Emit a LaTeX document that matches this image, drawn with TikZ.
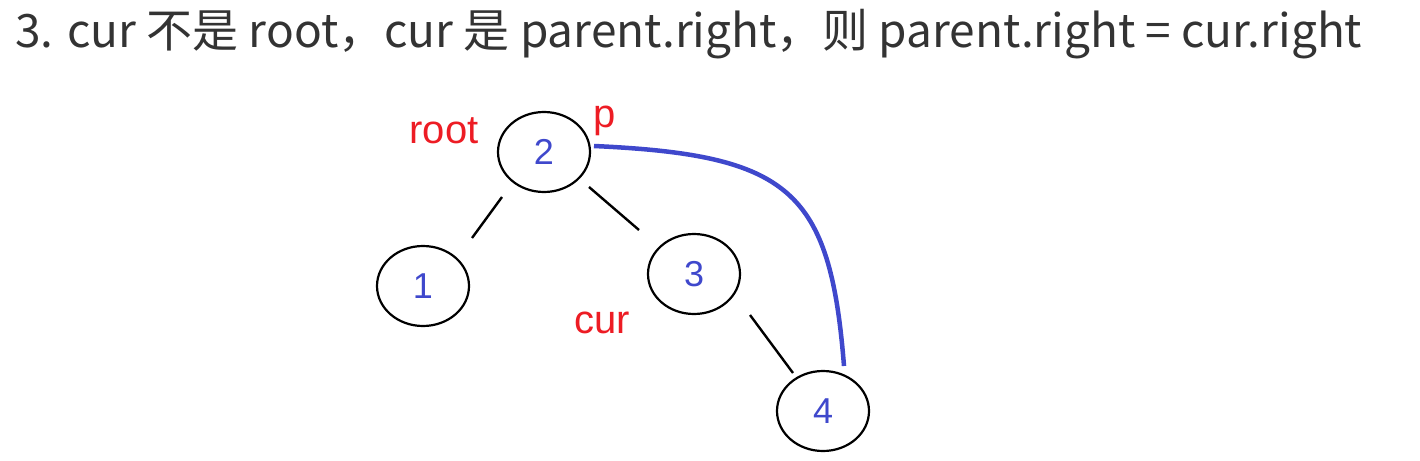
\documentclass[tikz,border=0pt]{standalone}
\usepackage{fontspec}
\setmainfont{Liberation Sans}
\newfontfamily\cjkfont{Noto Sans CJK SC}
\usetikzlibrary{calc,shapes.geometric}
\definecolor{pred}{HTML}{ED1C24}
\definecolor{pblue}{HTML}{3F48CC}
\definecolor{titlegray}{HTML}{333333}
\tikzset{
  treenode/.style={draw=black, line width=2.2pt, ellipse, minimum width=92pt, minimum height=80pt, inner sep=0pt, text=pblue, font=\fontsize{36}{40}\selectfont},
  lbl/.style={text=pred, font=\fontsize{40}{44}\selectfont, inner sep=0pt},
  edge/.style={draw=black, line width=2.4pt},
  link/.style={draw=pblue, line width=4.5pt},
}
\begin{document}
\begin{tikzpicture}[x=1pt,y=-1pt]
\useasboundingbox (0,0) rectangle (1420,460);
\node[anchor=west, inner sep=0pt, text=titlegray] (title) at (15,34)
  {\resizebox{1347pt}{!}{\cjkfont\fontsize{40}{44}\selectfont 3. cur 不是 root，cur 是 parent.right，则 parent.right = cur.right}};
\node[treenode] (n2) at (544,152) {2};
\node[treenode] (n1) at (423,286) {1};
\node[treenode] (n3) at (694,274) {3};
\node[treenode] (n4) at (823,411) {4};
\node[lbl] (root) at (444,131) {root};
\node[lbl] (p) at (605,121) {p};
\node[lbl] (cur) at (602,323) {cur};
\draw[edge] ($(n2)+(-42,45)$) -- ($(n1)+(49,-48)$);
\draw[edge] ($(n2)+(45,35)$) -- ($(n3)+(-55,-44)$);
\draw[edge] ($(n3)+(56,41)$) -- ($(n4)+(-30,-38)$);
\draw[link] ($(n2)+(50,-6)$) .. controls (790,155) and (830,190) .. ($(n4)+(21,-45)$);
\end{tikzpicture}
\end{document}
